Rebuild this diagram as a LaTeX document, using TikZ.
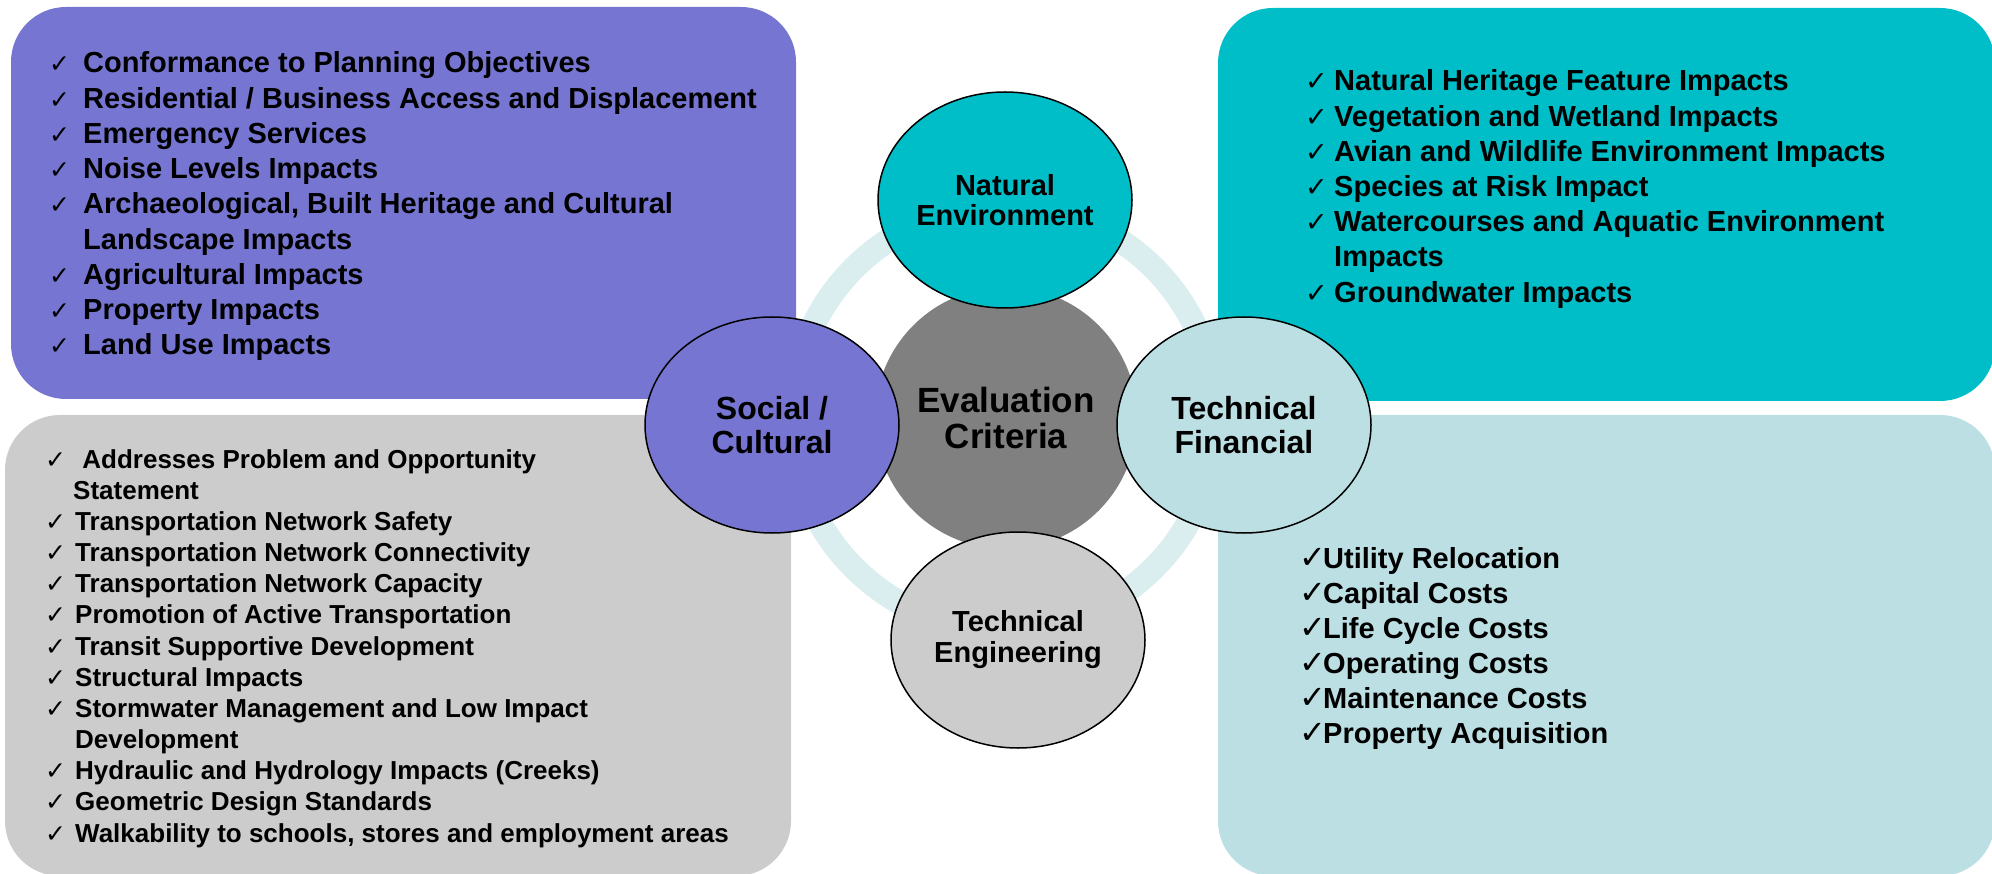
\documentclass[tikz,border=0pt]{standalone}
\usepackage{fontspec}
\setmainfont{Liberation Sans}
\newfontfamily\ckfont{DejaVu Sans}
\usetikzlibrary{shapes.geometric}

\definecolor{socialblue}{RGB}{118,118,210}
\definecolor{natteal}{RGB}{0,190,200}
\definecolor{finblue}{RGB}{187,223,227}
\definecolor{enggrey}{RGB}{204,204,204}
\definecolor{evalgrey}{RGB}{128,128,128}
\definecolor{ringblue}{RGB}{218,237,239}

\newcommand{\tick}[2][25]{\makebox[#2][l]{\ckfont\mdseries\fontsize{#1}{#1}\selectfont ✓}}

\begin{document}
\begin{tikzpicture}[
    x=1pt, y=-1pt,
    box/.style = {rectangle, rounded corners=55pt, inner sep=0pt},
    crit/.style = {ellipse, draw, line width=1.5pt, minimum width=254pt, minimum height=216pt, inner sep=0pt, align=center},
    list/.style = {anchor=base west, inner sep=0pt},
    ring/.style = {draw=ringblue, line width=24pt}
    ]
    \path[use as bounding box] (0,0) rectangle (1992,874);

    \draw[ring] (1004,418) circle[radius=212];

    \node[box, fill=socialblue, minimum width=785pt, minimum height=392pt] (socialbox) at (403.5,203) {};
    \node[box, fill=natteal, minimum width=777pt, minimum height=393pt] (natbox) at (1606.5,204.5) {};
    \node[box, fill=enggrey, minimum width=786pt, minimum height=461pt] (engbox) at (398,645.5) {};
    \node[box, fill=finblue, minimum width=777pt, minimum height=461pt] (finbox) at (1606.5,645.5) {};

    \node[list, font=\fontsize{29}{35.25}\selectfont\bfseries] (sociallist) at (49,73) {\begin{tabular}[t]{@{}l@{}l@{}}
        \tick{34pt} & Conformance to Planning Objectives\\
        \tick{34pt} & Residential / Business Access and Displacement\\
        \tick{34pt} & Emergency Services\\
        \tick{34pt} & Noise Levels Impacts\\
        \tick{34pt} & Archaeological, Built Heritage and Cultural\\
                    & Landscape Impacts\\
        \tick{34pt} & Agricultural Impacts\\
        \tick{34pt} & Property Impacts\\
        \tick{34pt} & Land Use Impacts
    \end{tabular}};

    \node[list, font=\fontsize{29}{35.17}\selectfont\bfseries] (natlist) at (1305,91) {\begin{tabular}[t]{@{}l@{}l@{}}
        \tick[27]{29pt} & Natural Heritage Feature Impacts\\
        \tick[27]{29pt} & Vegetation and Wetland Impacts\\
        \tick[27]{29pt} & Avian and Wildlife Environment Impacts\\
        \tick[27]{29pt} & Species at Risk Impact\\
        \tick[27]{29pt} & Watercourses and Aquatic Environment\\
                        & Impacts\\
        \tick[27]{29pt} & Groundwater Impacts
    \end{tabular}};

    \node[list, font=\fontsize{26}{31.17}\selectfont\bfseries] (englist) at (45,468) {\begin{tabular}[t]{@{}l@{}l@{}}
        \tick{30pt} & \ Addresses Problem and Opportunity\\
                    & \hspace*{-2pt}Statement\\
        \tick{30pt} & Transportation Network Safety\\
        \tick{30pt} & Transportation Network Connectivity\\
        \tick{30pt} & Transportation Network Capacity\\
        \tick{30pt} & Promotion of Active Transportation\\
        \tick{30pt} & Transit Supportive Development\\
        \tick{30pt} & Structural Impacts\\
        \tick{30pt} & Stormwater Management and Low Impact\\
                    & Development\\
        \tick{30pt} & Hydraulic and Hydrology Impacts (Creeks)\\
        \tick{30pt} & Geometric Design Standards\\
        \tick{30pt} & Walkability to schools, stores and employment areas
    \end{tabular}};

    \node[list, font=\fontsize{29}{35}\selectfont\bfseries] (finlist) at (1299,568) {\begin{tabular}[t]{@{}l@{}l@{}}
        \tick[32]{24pt} & Utility Relocation\\
        \tick[32]{24pt} & Capital Costs\\
        \tick[32]{24pt} & Life Cycle Costs\\
        \tick[32]{24pt} & Operating Costs\\
        \tick[32]{24pt} & Maintenance Costs\\
        \tick[32]{24pt} & Property Acquisition
    \end{tabular}};

    % hub and the four criteria groups
    \node[circle, fill=evalgrey, minimum size=262pt, inner sep=0pt, align=center, font=\fontsize{35}{36}\selectfont\bfseries] (eval) at (1006,418) {Evaluation\\Criteria};
    \node[crit, fill=natteal, font=\fontsize{29}{30}\selectfont\bfseries] (natural) at (1005,200) {Natural\\Environment};
    \node[crit, fill=socialblue, font=\fontsize{32}{34}\selectfont\bfseries] (social) at (772,425) {Social /\\Cultural};
    \node[crit, fill=finblue, font=\fontsize{32}{34}\selectfont\bfseries] (financial) at (1244,425) {Technical\\Financial};
    \node[crit, fill=enggrey, font=\fontsize{29}{31}\selectfont\bfseries] (engineering) at (1018,640) {Technical\\Engineering};
\end{tikzpicture}
\end{document}
